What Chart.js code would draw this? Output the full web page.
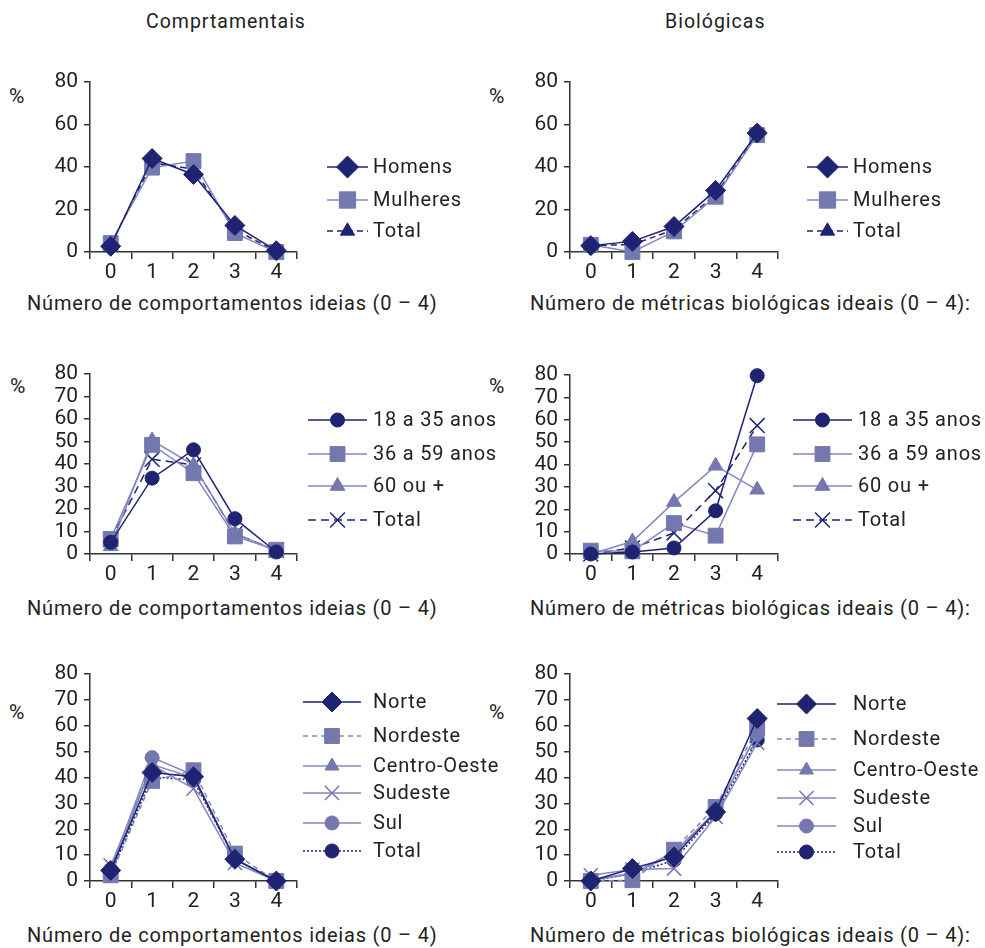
<!DOCTYPE html>
<html>
<head>
<meta charset="utf-8">
<script src="https://cdn.jsdelivr.net/npm/chart.js@4.4.1/dist/chart.umd.min.js"></script>
<style>
  body { margin: 0; background: #fff; font-family: Roboto, "DejaVu Sans", sans-serif; color: #222; }
  #page { position: relative; width: 985px; height: 948px; overflow: hidden; }
  canvas { position: absolute; }
  .txt { position: absolute; white-space: nowrap; font-size: 20px; line-height: 24px; letter-spacing: 0.8px; }
  .head { font-size: 19.5px; letter-spacing: 1px; }
  .pct { font-size: 21px; letter-spacing: 0; }
</style>
</head>
<body>
<div id="page">
  <div class="txt head" style="left:146px; top:10px;">Comprtamentais</div>
  <div class="txt head" style="left:665px; top:10px;">Biológicas</div>

  <div class="txt pct" style="left:9px; top:84px;">%</div>
  <div class="txt pct" style="left:489px; top:84px;">%</div>
  <div class="txt pct" style="left:10px; top:374px;">%</div>
  <div class="txt pct" style="left:489px; top:374px;">%</div>
  <div class="txt pct" style="left:9px; top:700px;">%</div>
  <div class="txt pct" style="left:489px; top:700px;">%</div>

  <div class="txt" style="left:27px; top:291px;">Número de comportamentos ideias (0 – 4)</div>
  <div class="txt" style="left:530px; top:291px;">Número de métricas biológicas ideais (0 – 4):</div>
  <div class="txt" style="left:27px; top:596px;">Número de comportamentos ideias (0 – 4)</div>
  <div class="txt" style="left:530px; top:596px;">Número de métricas biológicas ideais (0 – 4):</div>
  <div class="txt" style="left:27px; top:923px;">Número de comportamentos ideias (0 – 4)</div>
  <div class="txt" style="left:530px; top:923px;">Número de métricas biológicas ideais (0 – 4):</div>

  <canvas id="c1"></canvas>
  <canvas id="c2"></canvas>
  <canvas id="c3"></canvas>
  <canvas id="c4"></canvas>
  <canvas id="c5"></canvas>
  <canvas id="c6"></canvas>
</div>

<script>
// data (%)
const xLabels = ['0', '1', '2', '3', '4'];

const sexoNomes = ['Homens', 'Mulheres', 'Total'];
const comportHomens = [2.7, 44, 36.5, 12.5, 0.6];
const comportMulheres = [4.2, 39.7, 42.8, 8.9, 0];
const comportTotalSexo = [3.5, 42, 39, 10.5, 0.3];
const biolHomens = [3, 5, 12, 29, 56];
const biolMulheres = [3.4, 0, 9.7, 26, 55];
const biolTotalSexo = [3, 3.5, 10.5, 27, 55.5];

const idadeNomes = ['18 a 35 anos', '36 a 59 anos', '60 ou +', 'Total'];
const comport18a35 = [5.2, 33.7, 46.3, 15.7, 0.9];
const comport36a59 = [6.7, 48.5, 35.9, 7.8, 1.9];
const comport60mais = [3.4, 50.5, 39.5, 9.3, 1.2];
const comportTotalIdade = [6.4, 42.1, 39.6, 9, 1.6];
const biol18a35 = [0, 0.9, 2.7, 19.3, 79.7];
const biol36a59 = [1.5, 1.2, 13.8, 8.2, 49];
const biol60mais = [0, 5.6, 23.2, 39.4, 28.7];
const biolTotalIdade = [0, 2.7, 9.4, 28.3, 57.4];

const regiaoNomes = ['Norte', 'Nordeste', 'Centro-Oeste', 'Sudeste', 'Sul', 'Total'];
const comportNorte = [4.1, 41.9, 40.3, 8.4, 0];
const comportNordeste = [2.2, 38.7, 42.8, 10.6, 0];
const comportCentroOeste = [3.5, 45, 40, 8.5, 0];
const comportSudeste = [6, 44.8, 35.7, 7, 0];
const comportSul = [4.5, 47.7, 40.9, 8.6, 0];
const comportTotalRegiao = [2.8, 40.3, 39, 8.4, 0];
const biolNorte = [0, 4.8, 9.3, 26.7, 62.8];
const biolNordeste = [0, 0.3, 12.1, 28.6, 59];
const biolCentroOeste = [0.5, 3, 10, 27, 57];
const biolSudeste = [2.2, 4.4, 4.8, 24.8, 53.4];
const biolSul = [0.3, 2.8, 11.2, 26.7, 57];
const biolTotalRegiao = [0, 2.8, 8, 26, 54.5];

const DARK = '#1e2372';
const LAV = '#7577af';
const LAVLINE = '#8587bf';
const FONT = 'Roboto, "DejaVu Sans", sans-serif';

function serie(label, data, color, lineColor, style, radius, dash) {
  return {
    label: label,
    data: data,
    borderColor: lineColor,
    backgroundColor: color,
    borderWidth: 1.5,
    borderDash: dash || [],
    tension: 0,
    pointStyle: style,
    pointRadius: radius,
    pointHoverRadius: radius,
    pointBackgroundColor: color,
    pointBorderColor: color,
    pointBorderWidth: style === 'crossRot' ? 1.5 : 1,
    markerColor: color,
    clip: false
  };
}

// legend drawn next to each plot: line sample + marker + label
const legendPlugin = {
  id: 'sideLegend',
  afterDraw(chart) {
    const lg = chart.options.plugins.sideLegend;
    if (!lg) return;
    const ctx = chart.ctx;
    chart.data.datasets.forEach((ds, i) => {
      const y = lg.rows[i] - lg.top;
      const x0 = lg.x0 - lg.left, x1 = lg.x1 - lg.left;
      ctx.save();
      ctx.strokeStyle = ds.borderColor;
      ctx.lineWidth = 1.5;
      ctx.setLineDash(ds.borderDash || []);
      ctx.beginPath();
      ctx.moveTo(x0, y);
      ctx.lineTo(x1, y);
      ctx.stroke();
      ctx.setLineDash([]);
      ctx.fillStyle = ds.markerColor;
      ctx.strokeStyle = ds.markerColor;
      ctx.lineWidth = ds.pointBorderWidth;
      Chart.helpers.drawPoint(ctx, {
        pointStyle: ds.pointStyle,
        radius: ds.pointRadius * (lg.scale || 1),
        rotation: 0,
        borderWidth: ds.pointBorderWidth
      }, (x0 + x1) / 2, y);
      ctx.fillStyle = '#222';
      ctx.font = '20px ' + FONT;
      ctx.letterSpacing = '0.8px';
      ctx.textBaseline = 'middle';
      ctx.textAlign = 'left';
      ctx.fillText(ds.label, lg.tx - lg.left, y + 1);
      ctx.restore();
    });
  }
};

function makeChart(id, box, area, step, datasets, legend) {
  const cv = document.getElementById(id);
  cv.width = box.width;
  cv.height = box.height;
  cv.style.left = box.left + 'px';
  cv.style.top = box.top + 'px';
  cv.style.width = box.width + 'px';
  cv.style.height = box.height + 'px';
  legend.left = box.left;
  legend.top = box.top;
  const xH = 30;
  return new Chart(cv, {
    type: 'line',
    data: { labels: xLabels, datasets: datasets },
    options: {
      responsive: false,
      animation: false,
      devicePixelRatio: 1,
      layout: {
        padding: {
          left: 0,
          top: area.top - box.top,
          right: box.left + box.width - area.right,
          bottom: box.top + box.height - area.bottom - xH
        }
      },
      plugins: {
        legend: { display: false },
        tooltip: { enabled: false },
        sideLegend: legend
      },
      scales: {
        x: {
          offset: true,
          afterFit(s) { s.height = xH; },
          grid: { offset: true, drawOnChartArea: false, drawTicks: true, tickLength: 7, color: '#333', lineWidth: 1.5 },
          border: { display: true, color: '#333', width: 1.5 },
          ticks: { color: '#222', font: { family: FONT, size: 21 }, padding: 1, maxRotation: 0 }
        },
        y: {
          min: 0,
          max: 80,
          afterFit(s) { s.width = area.left - box.left; },
          grid: { drawOnChartArea: false, drawTicks: true, tickLength: 6, color: '#333', lineWidth: 1.5 },
          border: { display: true, color: '#333', width: 1.5 },
          ticks: { stepSize: step, autoSkip: false, color: '#222', font: { family: FONT, size: 21, lineHeight: 1 }, padding: 6 }
        }
      }
    },
    plugins: [legendPlugin]
  });
}

// top row: by sex
makeChart('c1', { left: 0, top: 60, width: 520, height: 232 }, { left: 90, top: 82, right: 297, bottom: 252 }, 20, [
  serie(sexoNomes[0], comportHomens, DARK, DARK, 'rectRot', 10),
  serie(sexoNomes[1], comportMulheres, LAV, LAVLINE, 'rect', 10.5),
  serie(sexoNomes[2], comportTotalSexo, DARK, DARK, 'triangle', 7.5, [6, 4])
], { x0: 327, x1: 368, tx: 373, rows: [167, 200, 231], scale: 1.1 });

makeChart('c2', { left: 490, top: 60, width: 495, height: 232 }, { left: 570, top: 82, right: 778, bottom: 252 }, 20, [
  serie(sexoNomes[0], biolHomens, DARK, DARK, 'rectRot', 10),
  serie(sexoNomes[1], biolMulheres, LAV, LAVLINE, 'rect', 10.5),
  serie(sexoNomes[2], biolTotalSexo, DARK, DARK, 'triangle', 7.5, [6, 4])
], { x0: 807, x1: 848, tx: 853, rows: [167, 200, 231], scale: 1.1 });

// middle row: by age
makeChart('c3', { left: 0, top: 350, width: 520, height: 240 }, { left: 90, top: 374, right: 297, bottom: 554 }, 10, [
  serie(idadeNomes[0], comport18a35, DARK, DARK, 'circle', 7),
  serie(idadeNomes[1], comport36a59, LAV, LAVLINE, 'rect', 10.5),
  serie(idadeNomes[2], comport60mais, LAV, LAVLINE, 'triangle', 8.5),
  serie(idadeNomes[3], comportTotalIdade, DARK, DARK, 'crossRot', 10.5, [8, 5])
], { x0: 308, x1: 367, tx: 373, rows: [420, 454, 486, 520] });

makeChart('c4', { left: 490, top: 350, width: 495, height: 240 }, { left: 570, top: 375, right: 778, bottom: 554 }, 10, [
  serie(idadeNomes[0], biol18a35, DARK, DARK, 'circle', 7),
  serie(idadeNomes[1], biol36a59, LAV, LAVLINE, 'rect', 10.5),
  serie(idadeNomes[2], biol60mais, LAV, LAVLINE, 'triangle', 8.5),
  serie(idadeNomes[3], biolTotalIdade, DARK, DARK, 'crossRot', 10.5, [8, 5])
], { x0: 793, x1: 852, tx: 858, rows: [420, 454, 486, 520] });

// bottom row: by region
makeChart('c5', { left: 0, top: 650, width: 520, height: 266 }, { left: 90, top: 674, right: 297, bottom: 881 }, 10, [
  serie(regiaoNomes[0], comportNorte, DARK, DARK, 'rectRot', 10),
  serie(regiaoNomes[1], comportNordeste, LAV, LAVLINE, 'rect', 10.5, [5, 4]),
  serie(regiaoNomes[2], comportCentroOeste, LAV, LAVLINE, 'triangle', 8),
  serie(regiaoNomes[3], comportSudeste, LAV, LAVLINE, 'crossRot', 10),
  serie(regiaoNomes[4], comportSul, LAV, LAVLINE, 'circle', 7),
  serie(regiaoNomes[5], comportTotalRegiao, DARK, DARK, 'circle', 7, [2, 2])
], { x0: 303, x1: 361, tx: 373, rows: [702, 736, 766, 793, 823, 851] });

makeChart('c6', { left: 490, top: 650, width: 495, height: 266 }, { left: 570, top: 674, right: 778, bottom: 881 }, 10, [
  serie(regiaoNomes[0], biolNorte, DARK, DARK, 'rectRot', 10),
  serie(regiaoNomes[1], biolNordeste, LAV, LAVLINE, 'rect', 10.5, [5, 4]),
  serie(regiaoNomes[2], biolCentroOeste, LAV, LAVLINE, 'triangle', 8),
  serie(regiaoNomes[3], biolSudeste, LAV, LAVLINE, 'crossRot', 10),
  serie(regiaoNomes[4], biolSul, LAV, LAVLINE, 'circle', 7),
  serie(regiaoNomes[5], biolTotalRegiao, DARK, DARK, 'circle', 7, [2, 2])
], { x0: 777, x1: 836, tx: 853, rows: [704, 739, 770, 798, 826, 852] });
</script>
</body>
</html>
